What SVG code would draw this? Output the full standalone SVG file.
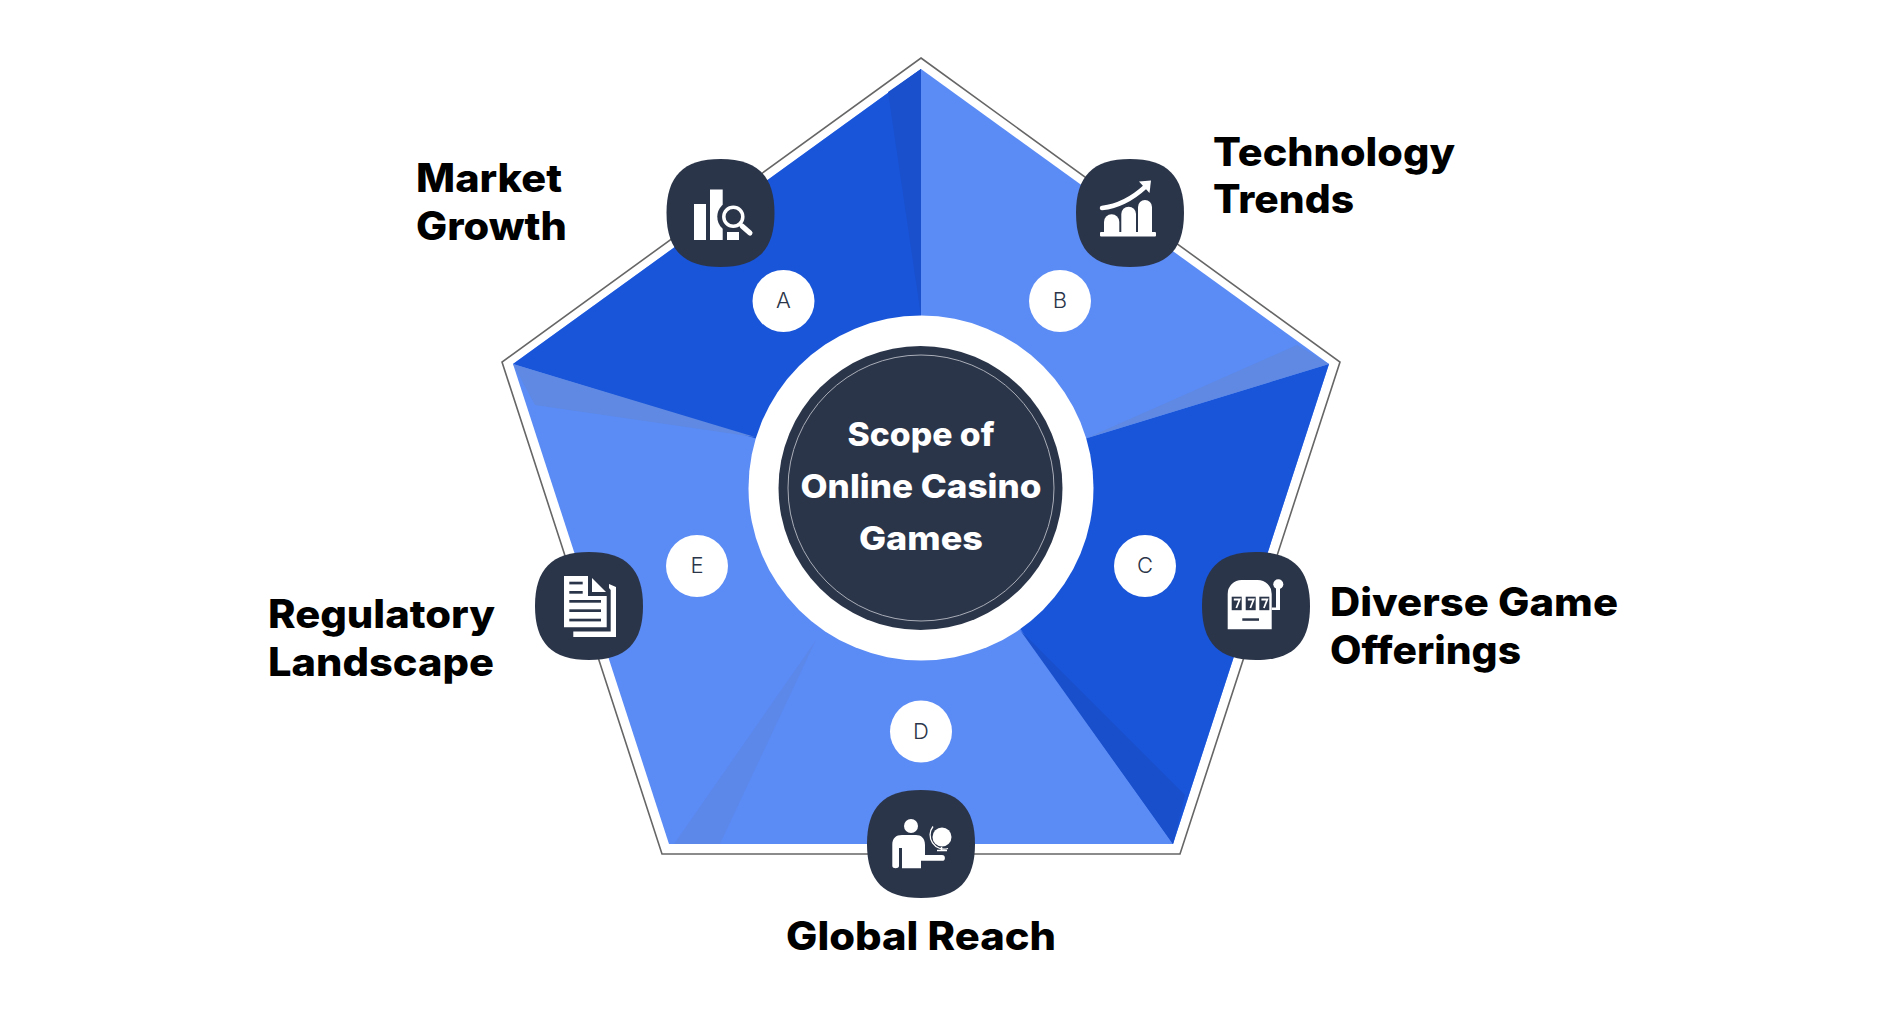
<svg xmlns="http://www.w3.org/2000/svg" xmlns:xlink="http://www.w3.org/1999/xlink" width="1894" height="1024" viewBox="0 0 1894 1024">
<style>
.label{font-family:Inter,"Noto Sans","Liberation Sans",sans-serif;font-weight:800;font-size:39px;fill:#000}
.center{font-family:Inter,"Noto Sans","Liberation Sans",sans-serif;font-weight:800;font-size:33px;fill:#fff;text-anchor:middle}
.letter{font-family:Inter,"Noto Sans","Liberation Sans",sans-serif;font-weight:300;font-size:22px;fill:#2b3549;text-anchor:middle}
.tile{fill:#2b3549}
.w{fill:#fff}
.d{fill:#2b3549}
.badge{fill:#fff}
</style>
<defs>
<path id="squircle" d="M-54,0C-54,-37 -37,-54 0,-54S54,-37 54,0S37,54 0,54S-54,37 -54,0Z"/>
</defs>
<rect width="1894" height="1024" fill="#fff"/>
<g id="pentagon">
<polygon points="921,58 1340,362 1180,854 662,854 502,362" fill="#fff" stroke="#666" stroke-width="1.6"/>
<polygon points="921,69 1329,364 1173,844 669,844 513,364" fill="#5b8bf5"/>
<polygon points="921,69 921,489 513,364" fill="#1955d9"/>
<polygon points="1329,364 921,489 1173,844" fill="#1955d9"/>
<polygon points="921,69 921,316 888,92" fill="#1a50cc"/>
<polygon points="1329,364 1087,438 1297,345" fill="#5f89e2"/>
<polygon points="1020,630 1173,844 1185,795" fill="#194fcb"/>
<polygon points="513,364 755,437 535,405" fill="#5f89e2"/>
<polygon points="816,640 674,844 720,844" fill="#5c88ea"/>
</g>
<g id="center">
<circle cx="921" cy="488" r="172.500" fill="#fff"/>
<circle cx="920.500" cy="488" r="142" fill="#2b3549"/>
<circle cx="921" cy="488" r="133" fill="none" stroke="#a9aeb8" stroke-width="1"/>
<text class="center" x="921" y="446" textLength="147" lengthAdjust="spacingAndGlyphs">Scope of</text>
<text class="center" x="921" y="498" textLength="241" lengthAdjust="spacingAndGlyphs">Online Casino</text>
<text class="center" x="921" y="550" textLength="124" lengthAdjust="spacingAndGlyphs">Games</text>
</g>
<g id="node-a">
<circle class="badge" cx="783.500" cy="301" r="31"/>
<text class="letter" x="783.500" y="308">A</text>
<use xlink:href="#squircle" href="#squircle" class="tile" x="720.500" y="213"/>
<rect class="w" x="694" y="204" width="12" height="36"/>
<rect class="w" x="710" y="189.500" width="12.700" height="50.500"/>
<circle class="d" cx="733.300" cy="216.700" r="16"/>
<rect class="w" x="727" y="232" width="12" height="8"/>
<circle class="d" cx="733.300" cy="216.700" r="14"/>
<circle cx="733.300" cy="216.700" r="9.500" fill="none" stroke="#fff" stroke-width="3.500"/>
<line x1="742" y1="226" x2="750" y2="233" stroke="#fff" stroke-width="5" stroke-linecap="round"/>
<text class="label" x="416" y="192" textLength="146" lengthAdjust="spacingAndGlyphs">Market</text>
<text class="label" x="416" y="240" textLength="151" lengthAdjust="spacingAndGlyphs">Growth</text>
</g>
<g id="node-b">
<circle class="badge" cx="1060" cy="301" r="31"/>
<text class="letter" x="1060" y="308">B</text>
<use xlink:href="#squircle" href="#squircle" class="tile" x="1130" y="213"/>
<rect class="w" x="1100" y="232" width="56" height="4.500" rx="1"/>
<path class="w" d="M1104,232V222A7.500,7.500 0 0 1 1119.300,222V232Z"/>
<path class="w" d="M1121.300,232V214A7.300,7.300 0 0 1 1136,214V232Z"/>
<path class="w" d="M1138,232V207A7,7 0 0 1 1152,207V232Z"/>
<path d="M1102,208C1119,206 1132,199 1145,187" fill="none" stroke="#fff" stroke-width="4.500" stroke-linecap="round"/>
<polygon class="w" points="1139,181.500 1151,180.500 1149.500,193"/>
<text class="label" x="1213" y="166" textLength="242" lengthAdjust="spacingAndGlyphs">Technology</text>
<text class="label" x="1213" y="213" textLength="141" lengthAdjust="spacingAndGlyphs">Trends</text>
</g>
<g id="node-c">
<circle class="badge" cx="1145" cy="566" r="31"/>
<text class="letter" x="1145" y="573">C</text>
<use xlink:href="#squircle" href="#squircle" class="tile" x="1256" y="606"/>
<path class="w" d="M1227.700,629.300V594A14,14 0 0 1 1241.700,580H1257.700A14,14 0 0 1 1271.700,594V629.300Z"/>
<rect class="d" x="1231.700" y="596.700" width="10" height="13.500"/>
<rect class="d" x="1245.700" y="596.700" width="10" height="13.500"/>
<rect class="d" x="1259.300" y="596.700" width="10" height="13.500"/>
<path d="M1233.800,599.500H1239.700L1236.300,608M1247.800,599.500H1253.700L1250.300,608M1261.400,599.500H1267.300L1263.900,608" fill="none" stroke="#fff" stroke-width="1.800"/>
<rect class="d" x="1242.300" y="618.300" width="16.700" height="2.500"/>
<circle class="w" cx="1278.300" cy="584.300" r="5"/>
<path class="w" d="M1276,588H1280V610H1271.700V607.500H1276Z"/>
<text class="label" x="1330" y="616" textLength="288" lengthAdjust="spacingAndGlyphs">Diverse Game</text>
<text class="label" x="1330" y="664" textLength="191" lengthAdjust="spacingAndGlyphs">Offerings</text>
</g>
<g id="node-d">
<circle class="badge" cx="921" cy="731.500" r="31"/>
<text class="letter" x="921" y="739">D</text>
<use xlink:href="#squircle" href="#squircle" class="tile" x="921" y="844"/>
<circle class="w" cx="911" cy="826" r="7"/>
<path class="w" d="M892.300,866V845C892.300,838 896,835 902,835H916C921,835 925,838 925,845V855H942A2.800,2.800 0 0 1 942,860.800H921V868.300H902V848H899V866C899,869 892.300,869 892.300,866Z"/>
<circle class="w" cx="942" cy="837" r="9.500"/>
<path d="M933,826.500A14,14 0 0 0 948,848.500" fill="none" stroke="#fff" stroke-width="1.300"/>
<path d="M941.500,847V851M937,850.500H947" fill="none" stroke="#fff" stroke-width="1.500"/>
<text class="label" x="786" y="950" textLength="270" lengthAdjust="spacingAndGlyphs">Global Reach</text>
</g>
<g id="node-e">
<circle class="badge" cx="697" cy="566" r="31"/>
<text class="letter" x="697" y="573">E</text>
<use xlink:href="#squircle" href="#squircle" class="tile" x="589" y="606"/>
<path class="w" d="M564,576H588V596H606.700V627.300H564Z"/>
<polygon class="w" points="592,578 606,592 592,592"/>
<path class="w" d="M609,584L616,587V637H573.300V631.500H610.700V590L609,588Z"/>
<rect class="d" x="569.300" y="581.700" width="13.400" height="2.700"/>
<rect class="d" x="569.300" y="591" width="13.400" height="2.700"/>
<rect class="d" x="569.300" y="600" width="31.700" height="2.700"/>
<rect class="d" x="569.300" y="609.300" width="31.700" height="2.700"/>
<rect class="d" x="569.300" y="618.700" width="31.700" height="2.700"/>
<text class="label" x="268" y="628" textLength="227" lengthAdjust="spacingAndGlyphs">Regulatory</text>
<text class="label" x="268" y="676" textLength="226" lengthAdjust="spacingAndGlyphs">Landscape</text>
</g>
</svg>
